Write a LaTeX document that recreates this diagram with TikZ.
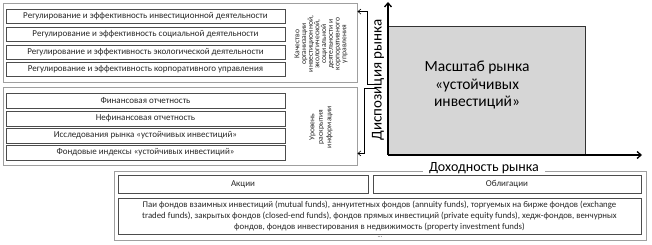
\documentclass[tikz,border=0pt]{standalone}
\usepackage{fontspec}
\setmainfont{Carlito}
\usetikzlibrary{positioning, arrows.meta}
\tikzset{
  panel/.style = {draw=gray!75, line width=0.9pt, inner sep=0pt},
  item/.style  = {draw=black!70, line width=0.6pt, inner sep=0pt, text=black!85,
                  font=\fontsize{9}{11}\selectfont, align=center},
  side/.style  = {rotate=90, align=center, text=black!85, font=\fontsize{7.6}{6.7}\selectfont},
  big/.style   = {font=\fontsize{14}{16}\selectfont},
  axis/.style  = {->, >={Straight Barb[length=4pt, width=7pt]}, line width=1.3pt},
  brace/.style = {->, >={Straight Barb[length=3pt, width=5pt]}, line width=0.6pt}
}

\begin{document}
\begin{tikzpicture}[x=1pt, y=-1pt]
  \useasboundingbox (0,0) rectangle (652,245);

  % left panels
  \node[panel, minimum width=354pt, minimum height=79pt] (pq) at (180,42.5) {};
  \node[panel, minimum width=354pt, minimum height=78pt] (pr) at (180,126) {};

  \node[item, minimum width=279pt, minimum height=14pt] (r1) at (145.5,16) {Регулирование и эффективность инвестиционной деятельности};
  \node[item, minimum width=279pt, minimum height=14pt] (r2) at (145.5,34) {Регулирование и эффективность социальной  деятельности};
  \node[item, minimum width=279pt, minimum height=14pt] (r3) at (145.5,52) {Регулирование и эффективность экологической  деятельности};
  \node[item, minimum width=279pt, minimum height=14pt] (r4) at (145.5,69) {Регулирование и эффективность корпоративного  управления};
  \node[side] (q) at (321,44) {Качество\\организации\\инвестиционной,\\экологической,\\социальной\\деятельности и\\корпоративного\\управления};

  \node[item, minimum width=279pt, minimum height=15pt] (f1) at (145.5,100.5) {Финансовая отчетность};
  \node[item, minimum width=279pt, minimum height=15pt] (f2) at (145.5,118.5) {Нефинансовая отчетность};
  \node[item, minimum width=279pt, minimum height=15pt] (f3) at (145.5,135.5) {Исследования рынка «устойчивых инвестиций»};
  \node[item, minimum width=279pt, minimum height=15pt] (f4) at (145.5,152.5) {Фондовые индексы «устойчивых инвестиций»};
  \node[side, font=\fontsize{7.6}{8.5}\selectfont] (u) at (321,127) {Уровень\\раскрытия\\информации};

  % market chart
  \coordinate (o) at (388,155);
  \coordinate (ytip) at (388,2);
  \coordinate (xtip) at (642,155);
  \node[draw=black!80, fill=gray!32, line width=0.6pt, minimum width=197pt, minimum height=129pt,
        inner sep=0pt] (scale) at (486.5,90.5) {};
  \node[big, font=\fontsize{15.5}{17.5}\selectfont, align=center] (scaletxt) at (477,85) {Масштаб рынка\\«устойчивых\\инвестиций»};
  \draw[axis] (o) -- (ytip);
  \draw[axis] (o) -- (xtip);
  \node[big, font=\fontsize{15}{17}\selectfont, rotate=90] (disp) at (378,80) {Диспозиция рынка};

  \coordinate (k1) at (376,84);
  \coordinate (k2) at (376,88);
  \draw[brace] (k1) -- ++(-9,0) |- ([yshift=-9pt]pq.north east);
  \draw[brace] (k2) -- ++(-12,0) |- ([yshift=12pt]pr.south east);

  % bottom panel
  \node[panel, minimum width=532pt, minimum height=69pt] (pi) at (380,205.5) {};
  \node[big, fill=white, inner xsep=6pt, inner ysep=0pt] (yield) at (484,168) {Доходность рынка};
  \node[item, minimum width=250pt, minimum height=18pt] (shares) at (243,184) {Акции};
  \node[item, minimum width=268pt, minimum height=18pt] (bonds) at (507,184) {Облигации};
  \node[item, font=\fontsize{8.8}{11}\selectfont, minimum width=523pt, minimum height=36pt] (funds) at (379.5,216)
    {Паи фондов взаимных инвестиций (mutual funds), аннуитетных фондов (annuity funds), торгуемых на бирже фондов (exchange\\
     traded funds), закрытых фондов (closed-end  funds), фондов прямых инвестиций (private equity funds), хедж-фондов, венчурных\\
     фондов, фондов инвестирования в недвижимость (property investment funds)};
  \node[text=black!85, font=\fontsize{6}{6}\selectfont, inner sep=0pt] (dots) at (380,237) {...};
\end{tikzpicture}
\end{document}
